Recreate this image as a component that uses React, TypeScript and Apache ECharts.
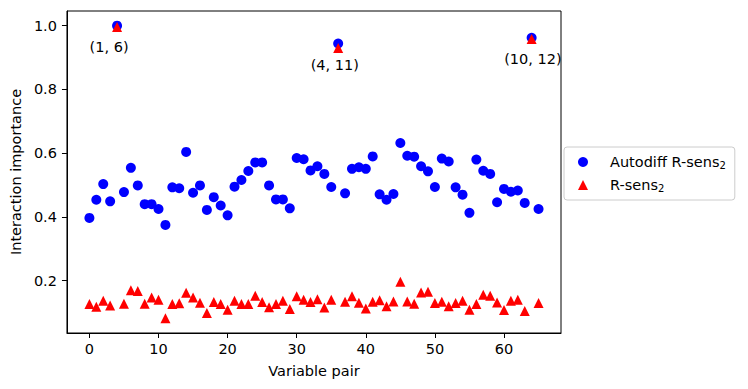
import React, { useEffect, useRef } from "react";
import * as echarts from "echarts";

const FONT = "DejaVu Sans";

const autodiffValues = [
  0.397, 0.454, 0.503, 0.449, 1.0, 0.478, 0.554, 0.499, 0.44, 0.44,
  0.425, 0.375, 0.493, 0.49, 0.604, 0.476, 0.499, 0.422, 0.462, 0.436,
  0.405, 0.495, 0.516, 0.544, 0.571, 0.571, 0.499, 0.455, 0.455, 0.427,
  0.585, 0.581, 0.546, 0.559, 0.535, 0.494, 0.944, 0.474, 0.551, 0.556,
  0.551, 0.59, 0.471, 0.454, 0.472, 0.632, 0.592, 0.589, 0.559, 0.543,
  0.494, 0.583, 0.574, 0.493, 0.47, 0.413, 0.58, 0.545, 0.535, 0.446,
  0.488, 0.479, 0.483, 0.444, 0.962, 0.425,
];

const rsensValues = [
  0.127, 0.118, 0.1375, 0.122, 0.996, 0.128, 0.17, 0.168, 0.128, 0.147,
  0.14, 0.082, 0.127, 0.129, 0.1625, 0.147, 0.131, 0.099, 0.133, 0.127,
  0.109, 0.1375, 0.127, 0.127, 0.153, 0.133, 0.117, 0.127, 0.1375, 0.111,
  0.151, 0.1406, 0.133, 0.1416, 0.1156, 0.1406, 0.93, 0.134, 0.151, 0.131,
  0.1125, 0.134, 0.139, 0.12, 0.135, 0.197, 0.135, 0.128, 0.163, 0.1656,
  0.13, 0.134, 0.12, 0.13, 0.1375, 0.109, 0.127, 0.156, 0.153, 0.132,
  0.108, 0.1375, 0.14, 0.105, 0.958, 0.13,
];

const annotationIndices = [4, 36, 64];
const annotationTexts = ["(1, 6)", "(4, 11)", "(10, 12)"];

const xTicks = [0, 10, 20, 30, 40, 50, 60];
const yTicks = [0.2, 0.4, 0.6, 0.8, 1.0];

const seriesNames = ["Autodiff R-sens", "R-sens"];

export default function App() {
  const ref = useRef<HTMLDivElement>(null);

  useEffect(() => {
    const chart = echarts.init(ref.current!, null, { renderer: "svg" });

    const blueData = autodiffValues.map((v, i) => {
      const k = annotationIndices.indexOf(i);
      if (k < 0) return [i, v];
      return {
        value: [i, v],
        label: {
          show: true,
          formatter: annotationTexts[k],
          position: "inside",
          align: "left",
          verticalAlign: "middle",
          offset: [-27.5, 21],
          color: "#000",
          opacity: 1,
          fontSize: 14.5,
          fontFamily: FONT,
        },
      };
    });
    const redData = rsensValues.map((v, i) => [i, v]);

    const axisText = { color: "#000", fontSize: 14.5, fontFamily: FONT };

    chart.setOption({
      animation: false,
      backgroundColor: "#fff",
      grid: {
        left: 64,
        top: 11,
        width: 497,
        height: 322,
        show: true,
        borderColor: "#000",
        borderWidth: 1,
        backgroundColor: "transparent",
      },
      xAxis: {
        type: "value",
        min: -3.25,
        max: 68.25,
        splitLine: { show: false },
        axisLine: { show: true, onZero: false, lineStyle: { color: "#000", width: 1 } },
        axisTick: { show: true, length: 5, customValues: xTicks, lineStyle: { color: "#000" } },
        axisLabel: { ...axisText, margin: 8, customValues: xTicks },
        name: "Variable pair",
        nameLocation: "middle",
        nameGap: 30,
        nameTextStyle: axisText,
      },
      yAxis: {
        type: "value",
        min: 0.036,
        max: 1.046,
        splitLine: { show: false },
        axisLine: { show: true, onZero: false, lineStyle: { color: "#000", width: 1 } },
        axisTick: { show: true, length: 5, customValues: yTicks, lineStyle: { color: "#000" } },
        axisLabel: {
          ...axisText,
          margin: 10,
          customValues: yTicks,
          formatter: (v: number) => v.toFixed(1),
        },
        name: "Interaction importance",
        nameLocation: "middle",
        nameRotate: 90,
        nameGap: 38,
        nameTextStyle: axisText,
      },
      legend: {
        left: 564,
        top: 147,
        orient: "vertical",
        itemWidth: 10,
        itemHeight: 10,
        itemGap: 7,
        padding: [7, 9, 7, 14],
        borderColor: "#cccccc",
        borderWidth: 1,
        borderRadius: 3,
        backgroundColor: "rgba(255,255,255,0.8)",
        formatter: (name: string) => `{t|${name}}{s|2}`,
        textStyle: {
          ...axisText,
          lineHeight: 14,
          padding: [0, 0, 0, 17],
          rich: {
            t: { ...axisText, lineHeight: 14 },
            s: { ...axisText, fontSize: 10, lineHeight: 14, padding: [6, 0, 0, 0] },
          },
        },
        data: [
          { name: seriesNames[0], icon: "circle" },
          { name: seriesNames[1], icon: "triangle" },
        ],
      },
      series: [
        {
          name: seriesNames[0],
          type: "scatter",
          symbol: "circle",
          symbolSize: 10,
          itemStyle: { color: "#0000ff", opacity: 1 },
          data: blueData,
        },
        {
          name: seriesNames[1],
          type: "scatter",
          symbol: "triangle",
          symbolSize: 10,
          itemStyle: { color: "#ff0000", opacity: 1 },
          data: redData,
        },
      ],
    });

    return () => chart.dispose();
  }, []);

  return (
    <div
      ref={ref}
      style={{ position: "absolute", left: 0, top: 0, width: 748, height: 389 }}
    />
  );
}
